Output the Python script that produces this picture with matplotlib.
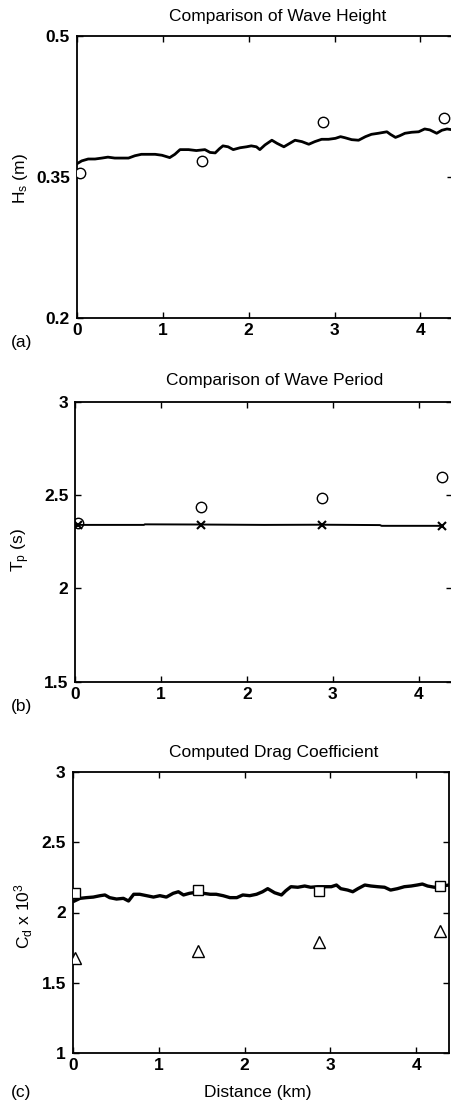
import matplotlib
matplotlib.use("Agg")
import matplotlib.pyplot as plt

plt.rcParams["font.family"] = ["Liberation Sans", "DejaVu Sans"]
plt.rcParams["mathtext.fontset"] = "custom"
plt.rcParams["mathtext.rm"] = "Liberation Sans"
plt.rcParams["mathtext.it"] = "Liberation Sans"

W, H = 451, 1105

# station positions along the transect (km)
stations = [0.03, 1.46, 2.87, 4.27]

# (a) significant wave height
hs_obs = [0.354, 0.367, 0.408, 0.413]
hs_x = [0, 0.055, 0.13, 0.21, 0.29, 0.36, 0.44, 0.52, 0.60, 0.675,
        0.75, 0.83, 0.91, 0.99, 1.08, 1.14, 1.20, 1.30, 1.39, 1.49,
        1.55, 1.61, 1.66, 1.70, 1.76, 1.82, 1.90, 1.975, 2.03, 2.09,
        2.13, 2.19, 2.27, 2.33, 2.41, 2.46, 2.54, 2.62, 2.70, 2.77,
        2.85, 2.93, 3.01, 3.07, 3.12, 3.20, 3.28, 3.36, 3.43, 3.51,
        3.61, 3.65, 3.71, 3.76, 3.82, 3.90, 3.98, 4.05, 4.11, 4.19,
        4.25, 4.31, 4.38]
hs_model = [0.364, 0.367, 0.369, 0.369, 0.370, 0.371, 0.370, 0.370, 0.370, 0.3725,
            0.374, 0.374, 0.374, 0.373, 0.3705, 0.374, 0.379, 0.379, 0.378, 0.379,
            0.376, 0.3755, 0.380, 0.383, 0.382, 0.379, 0.381, 0.382, 0.383, 0.382,
            0.379, 0.384, 0.389, 0.3857, 0.382, 0.3847, 0.389, 0.3875, 0.3847, 0.3875,
            0.390, 0.390, 0.391, 0.3928, 0.3917, 0.3896, 0.389, 0.3928, 0.3953, 0.3964,
            0.398, 0.3953, 0.392, 0.3938, 0.3964, 0.3975, 0.398, 0.401, 0.400, 0.3964,
            0.3996, 0.401, 0.400]

# (b) peak wave period
tp_obs = [2.349, 2.436, 2.482, 2.599]
tp_cross = [2.340, 2.340, 2.340, 2.336]
tp_x = [0, 0.80, 0.81, 1.46, 2.20, 2.87, 3.55, 3.57, 4.27]
tp_model = [2.340, 2.340, 2.343, 2.342, 2.340, 2.341, 2.339, 2.335, 2.335]

# (c) drag coefficient x 10^3
cd_square = [2.137, 2.158, 2.155, 2.189]
cd_triangle = [1.673, 1.727, 1.787, 1.870]
cd_x = [0.02, 0.085, 0.16, 0.24, 0.32, 0.375, 0.43, 0.51, 0.59, 0.65,
        0.71, 0.78, 0.86, 0.94, 1.015, 1.09, 1.17, 1.23, 1.29, 1.36,
        1.44, 1.52, 1.60, 1.67, 1.75, 1.83, 1.91, 1.98, 2.06, 2.14,
        2.21, 2.27, 2.35, 2.43, 2.48, 2.54, 2.62, 2.70, 2.77, 2.85,
        2.93, 3.01, 3.07, 3.12, 3.20, 3.26, 3.32, 3.40, 3.47, 3.55,
        3.63, 3.70, 3.78, 3.86, 3.94, 4.01, 4.07, 4.13, 4.21, 4.29,
        4.38]
cd_model = [2.082, 2.101, 2.106, 2.110, 2.120, 2.125, 2.106, 2.096, 2.101, 2.082,
            2.130, 2.130, 2.120, 2.110, 2.120, 2.110, 2.137, 2.148, 2.125, 2.137,
            2.144, 2.137, 2.130, 2.130, 2.120, 2.106, 2.106, 2.125, 2.120, 2.130,
            2.148, 2.170, 2.141, 2.125, 2.155, 2.184, 2.180, 2.189, 2.180, 2.184,
            2.184, 2.184, 2.196, 2.170, 2.160, 2.148, 2.170, 2.196, 2.189, 2.184,
            2.180, 2.160, 2.170, 2.184, 2.189, 2.196, 2.203, 2.189, 2.180, 2.189,
            2.196]

FS = 12.5


def px_axes(fig, left, right, top, bottom):
    return fig.add_axes([left / W, 1 - bottom / H, (right - left) / W, (bottom - top) / H])


def ftext(fig, x, y, s, **kw):
    fig.text(x / W, 1 - y / H, s, fontsize=FS, ha="center", va="center", **kw)


def style(ax, xmax, ylim, yticks, ylabels):
    ax.set_xlim(0, xmax)
    ax.set_ylim(*ylim)
    ax.set_xticks([0, 1, 2, 3, 4])
    ax.set_xticklabels(["0", "1", "2", "3", "4"], fontweight="bold")
    ax.set_yticks(yticks)
    ax.set_yticklabels(ylabels, fontweight="bold")
    ax.tick_params(direction="in", length=4, width=1, top=True, right=True,
                   labelsize=FS, pad=5)
    ax.tick_params(axis="x", pad=4)
    for sp in ax.spines.values():
        sp.set_linewidth(1.3)


fig = plt.figure(figsize=(W / 100, H / 100), dpi=100)

mk = dict(linestyle="none", markerfacecolor="white", markeredgecolor="black",
          markeredgewidth=1.0, zorder=3)

# (a) wave height
ax1 = px_axes(fig, 77, 453, 36, 317.7)
ax1.plot(hs_x, hs_model, color="black", lw=2.0)
ax1.plot(stations, hs_obs, marker="o", markersize=7.5, **mk)
style(ax1, 4.38, (0.2, 0.5), [0.2, 0.35, 0.5], ["0.2", "0.35", "0.5"])
ftext(fig, 278, 16, "Comparison of Wave Height")
ftext(fig, 21, 179, "$H_s$ (m)", rotation=90)
ftext(fig, 22, 343, "(a)")

# (b) wave period
ax2 = px_axes(fig, 75.3, 452, 401.7, 681.7)
ax2.plot(tp_x, tp_model, color="black", lw=1.4)
ax2.plot(stations, tp_cross, marker="x", markersize=6, linestyle="none",
         color="black", markeredgewidth=1.5, zorder=3)
ax2.plot(stations, tp_obs, marker="o", markersize=7.5, markerfacecolor="none",
         markeredgecolor="black", markeredgewidth=1.0, linestyle="none", zorder=4)
style(ax2, 4.39, (1.5, 3.0), [1.5, 2, 2.5, 3], ["1.5", "2", "2.5", "3"])
ftext(fig, 275, 381, "Comparison of Wave Period")
ftext(fig, 21, 550, "$T_p$ (s)", rotation=90)
ftext(fig, 22, 706, "(b)")

# (c) drag coefficient
ax3 = px_axes(fig, 72.7, 449, 772.3, 1052.7)
ax3.plot(cd_x, cd_model, color="black", lw=2.4)
ax3.plot(stations, cd_square, marker="s", markersize=7, **mk)
ax3.plot(stations, cd_triangle, marker="^", markersize=8, **mk)
style(ax3, 4.38, (1.0, 3.0), [1, 1.5, 2, 2.5, 3], ["1", "1.5", "2", "2.5", "3"])
ftext(fig, 274, 752, "Computed Drag Coefficient")
ftext(fig, 24, 916, r"$C_d$ x $10^3$", rotation=90)
ftext(fig, 258, 1093, "Distance (km)")
ftext(fig, 21, 1092, "(c)")

fig.savefig("out.png", dpi=100)
